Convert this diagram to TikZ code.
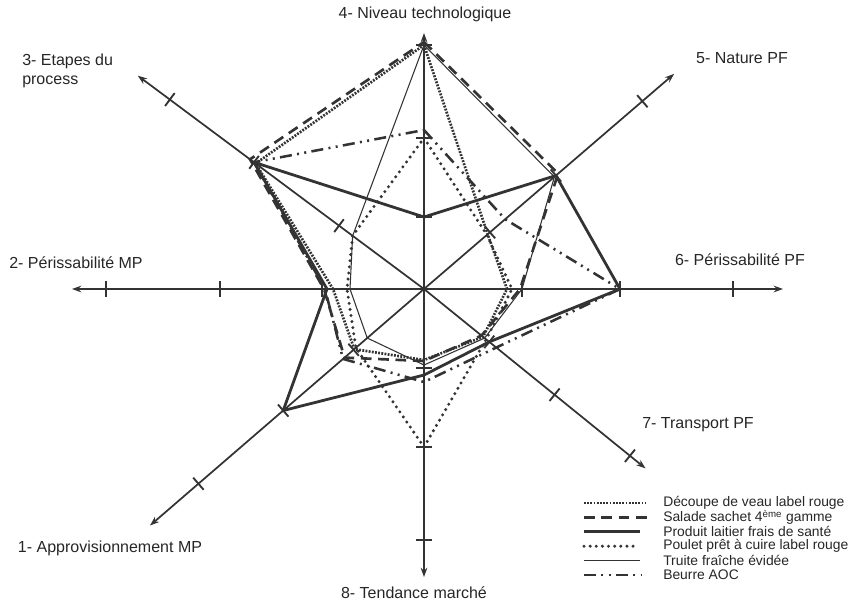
\documentclass[tikz,border=0pt]{standalone}
\usepackage{fontspec}
\setmainfont{Liberation Sans}
\usetikzlibrary{arrows.meta}

\begin{document}
\begin{tikzpicture}[x=0.75pt, y=-0.75pt,
    axe/.style={line width=1.3pt, draw=black!80, -{Stealth[length=7pt,width=5pt]}},
    graduation/.style={line width=1.4pt, draw=black!80},
    decoupe/.style={line width=2pt, draw=black!80, dash pattern=on 1.4pt off 1pt},
    salade/.style={line width=2pt, draw=black!80, dash pattern=on 8pt off 5pt},
    laitier/.style={line width=2.1pt, draw=black!80},
    poulet/.style={line width=2.5pt, draw=black!80, line cap=round, dash pattern=on 0pt off 4.6pt},
    truite/.style={line width=0.8pt, draw=black!80},
    beurre/.style={line width=1.9pt, draw=black!80, dash pattern=on 9pt off 4pt on 1.5pt off 4pt on 1.5pt off 4pt},
    critere/.style={font=\fontsize{12}{14}\selectfont, text=black!85, inner sep=0pt},
    legende/.style={font=\fontsize{10.4}{12}\selectfont, text=black!85, anchor=west, inner sep=0pt}]
  \useasboundingbox (0,0) rectangle (858,612);
  \coordinate (o) at (424,289);

  % axes: nom/angle/longueur/graduations
  \foreach \n/\a/\l/\ta/\tb/\tc in {4/-90/256/72/151/244, 5/-40.7/330/87/174/288,
      6/0/359/98/196/309, 7/39/285/84/168/265, 8/90/288/79/158/251,
      1/139.2/362/93/186/298, 2/180/352/102/204/318, 3/216.7/357/106/212/317}{
    \draw[axe] (o) -- ++(\a:\l) coordinate (a\n);
    \foreach \t in {\ta,\tb,\tc}
      \draw[graduation] (o) ++(\a:\t) ++(\a+90:8) -- ++(\a-90:16);
  }

  % profils
  \begin{scope}[shift={(o)}]
    \draw[laitier] (-90:72) -- (-40.7:174) -- (0:196) -- (39:84) -- (90:86) -- (139.2:186) -- (180:97) -- (216.7:212) -- cycle;
    \draw[truite] (-90:244) -- (-40.7:172) -- (0:98) -- (39:78) -- (90:76) -- (139.2:75) -- (180:74) -- (216.7:89) -- cycle;
    \draw[poulet] (-90:151) -- (-40.7:83) -- (0:88) -- (39:80) -- (90:158) -- (139.2:90) -- (180:77) -- (216.7:89) -- cycle;
    \draw[decoupe] (-90:244) -- (-40.7:84) -- (0:83) -- (39:76) -- (90:71) -- (139.2:92) -- (180:91) -- (216.7:210) -- cycle;
    \draw[salade] (-90:247) -- (-40.7:177) -- (0:96) -- (39:74) -- (90:72) -- (139.2:105) -- (180:100) -- (216.7:217) -- cycle;
    \draw[beurre] (-90:159) -- (-40.7:107) -- (0:196) -- (39:93) -- (90:93) -- (139.2:107) -- (180:99) -- (216.7:212) -- cycle;
  \end{scope}

  % criteres
  \node[critere] (c4) at (425,14) {4- Niveau technologique};
  \node[critere] (c5) at (742,58) {5- Nature PF};
  \node[critere] (c6) at (740,260) {6- Périssabilité PF};
  \node[critere] (c7) at (698,425) {7- Transport PF};
  \node[critere] (c8) at (414,593) {8- Tendance marché};
  \node[critere] (c1) at (110,548) {1- Approvisionnement MP};
  \node[critere] (c2) at (76,263) {2- Périssabilité MP};
  \node[critere, align=left, anchor=north west] (c3) at (22,54) {3- Etapes du\\process};

  % legende
  \foreach \s/\t/\e [count=\i] in {decoupe/Découpe de veau label rouge/645,
      salade/{Salade sachet 4\textsuperscript{ème} gamme}/647,
      laitier/Produit laitier frais de santé/640,
      poulet/Poulet prêt à cuire label rouge/634,
      truite/Truite fraîche évidée/640,
      beurre/Beurre AOC/642}{
    \draw[\s] (584,488.6+14.4*\i) -- (\e,488.6+14.4*\i);
    \node[legende] (l\i) at (663,488.6+14.4*\i) {\t};
  }
\end{tikzpicture}
\end{document}
